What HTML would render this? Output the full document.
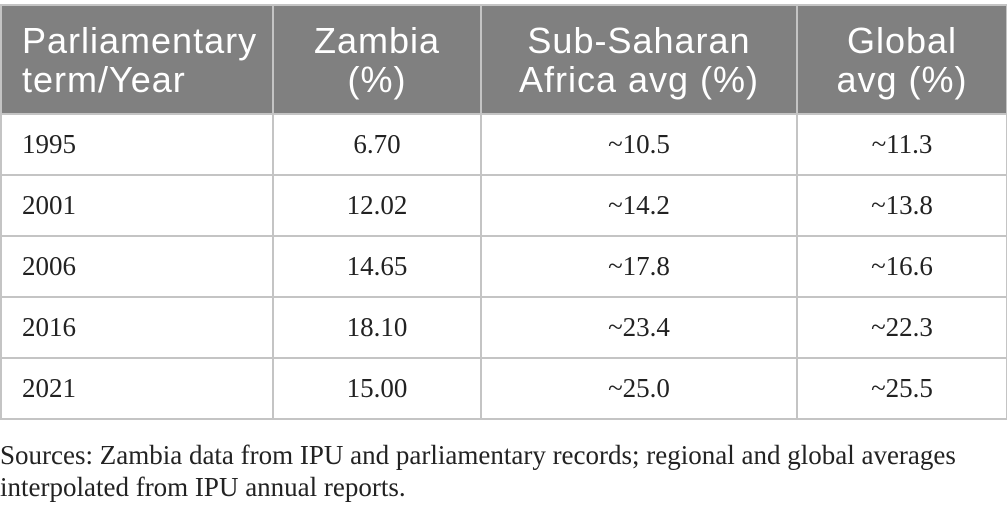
<!DOCTYPE html>
<html><head><meta charset="utf-8"><style>
body{margin:0;width:1007px;height:511px;background:#fff;overflow:hidden;position:relative}
table{position:absolute;left:0;top:4px;width:1006px;border-collapse:collapse;table-layout:fixed}
th,td{border:2px solid #c4c4c4;padding:0}
th{background:#808080;color:#fff;font:400 36px/39px "Liberation Sans","DejaVu Sans",sans-serif;height:107px;text-align:center;letter-spacing:1px}
th.l{text-align:left;padding-left:20px}
td{font:400 27px "Liberation Serif",serif;color:#222;height:59px;text-align:center}
td.l{text-align:left;padding-left:20px}
.note{position:absolute;left:0;top:439px;font:400 27px/32px "Liberation Serif",serif;color:#222;width:1005px}
</style></head><body>
<table>
<colgroup><col style="width:272px"><col style="width:208px"><col style="width:316px"><col style="width:210px"></colgroup>
<tr>
<th class="l">Parliamentary<br>term/Year</th>
<th>Zambia<br>(%)</th>
<th>Sub-Saharan<br>Africa avg (%)</th>
<th>Global<br>avg (%)</th></tr>
<tr><td class="l">1995</td><td>6.70</td><td>~10.5</td><td>~11.3</td></tr>
<tr><td class="l">2001</td><td>12.02</td><td>~14.2</td><td>~13.8</td></tr>
<tr><td class="l">2006</td><td>14.65</td><td>~17.8</td><td>~16.6</td></tr>
<tr><td class="l">2016</td><td>18.10</td><td>~23.4</td><td>~22.3</td></tr>
<tr><td class="l">2021</td><td>15.00</td><td>~25.0</td><td>~25.5</td></tr>
</table>
<div class="note">Sources: Zambia data from IPU and parliamentary records; regional and global averages<br>interpolated from IPU annual reports.</div>
</body></html>
